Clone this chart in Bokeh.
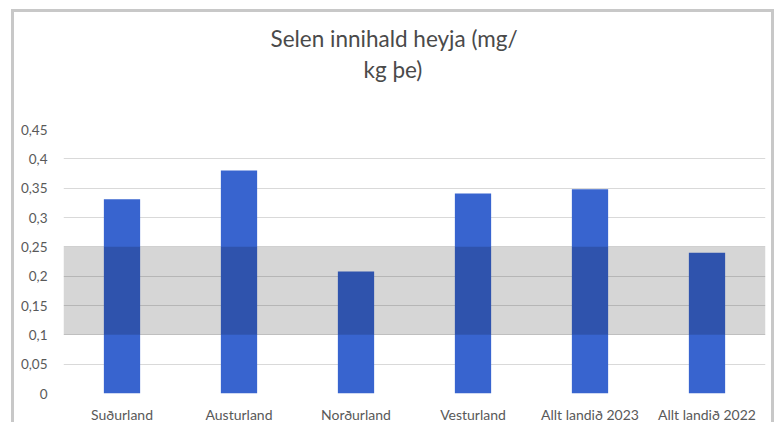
from bokeh.plotting import figure
from bokeh.models import FactorRange, FixedTicker, BoxAnnotation, Range1d, Title
from bokeh.embed import file_html
from bokeh.resources import INLINE

categories = ["Suðurland", "Austurland", "Norðurland", "Vesturland", "Allt landið 2023", "Allt landið 2022"]
selen_values = [0.331, 0.380, 0.208, 0.341, 0.348, 0.240]
y_ticks = [0, 0.05, 0.1, 0.15, 0.2, 0.25, 0.3, 0.35, 0.4, 0.45]
y_tick_labels = ["0", "0,05", "0,1", "0,15", "0,2", "0,25", "0,3", "0,35", "0,4", "0,45"]
band_low = 0.1
band_high = 0.25
title_lines = ["Selen innihald heyja (mg/", "kg þe)"]

FONT = "Lato"
W, H = 763, 413
MB_LEFT, MB_RIGHT, MB_TOP, MB_BOTTOM = 49, 12, 117, 32
TITLE_OFFSETS = [207, 300]  # left offset of each title line from the plot area's left edge

p = figure(
    x_range=FactorRange(*categories),
    y_range=Range1d(0, 0.45),
    width=W, height=H,
    output_backend="svg", toolbar_location=None,
    min_border_left=MB_LEFT, min_border_right=MB_RIGHT,
    min_border_top=MB_TOP, min_border_bottom=MB_BOTTOM,
    margin=(9, 0, 0, 11),
    styles={"border-top": "3px solid #c8c8c8", "border-left": "3px solid #c8c8c8",
            "border-right": "3px solid #c8c8c8"},
)
p.outline_line_color = None
p.background_fill_color = "white"
p.border_fill_color = "white"

p.vbar(x=categories, top=selen_values, width=0.31, fill_color="#3864cf", line_color=None)

band = BoxAnnotation(bottom=band_low, top=band_high, fill_color="black", fill_alpha=0.16, line_color=None)
p.add_layout(band)

# title panels stack outward from the plot area: spacer, second line, first line
p.add_layout(Title(text=" ", text_font_size="1px", standoff=43), "above")
for line, off in reversed(list(zip(title_lines, TITLE_OFFSETS))):
    p.add_layout(Title(text=line, align="left", offset=off, text_font=FONT, text_font_size="22.5px",
                       text_font_style="normal", text_color="#4a4a4a", standoff=2), "above")

p.yaxis.ticker = FixedTicker(ticks=y_ticks)
p.yaxis.major_label_overrides = {t: l for t, l in zip(y_ticks, y_tick_labels)}
p.yaxis.axis_line_color = None
p.yaxis.major_tick_line_color = None
p.yaxis.minor_tick_line_color = None
p.yaxis.major_label_standoff = 10
p.yaxis.major_label_text_font = FONT
p.yaxis.major_label_text_font_size = "13.5px"
p.yaxis.major_label_text_color = "#595959"

p.xaxis.axis_line_color = None
p.xaxis.major_tick_line_color = None
p.xaxis.minor_tick_line_color = None
p.xaxis.major_label_standoff = 6
p.xaxis.major_label_text_font = FONT
p.xaxis.major_label_text_font_size = "14px"
p.xaxis.major_label_text_color = "#595959"

p.xgrid.grid_line_color = None
p.ygrid.grid_line_color = "#d9d9d9"
p.ygrid.grid_line_width = 1

open("out.html", "w").write(file_html(p, INLINE))
